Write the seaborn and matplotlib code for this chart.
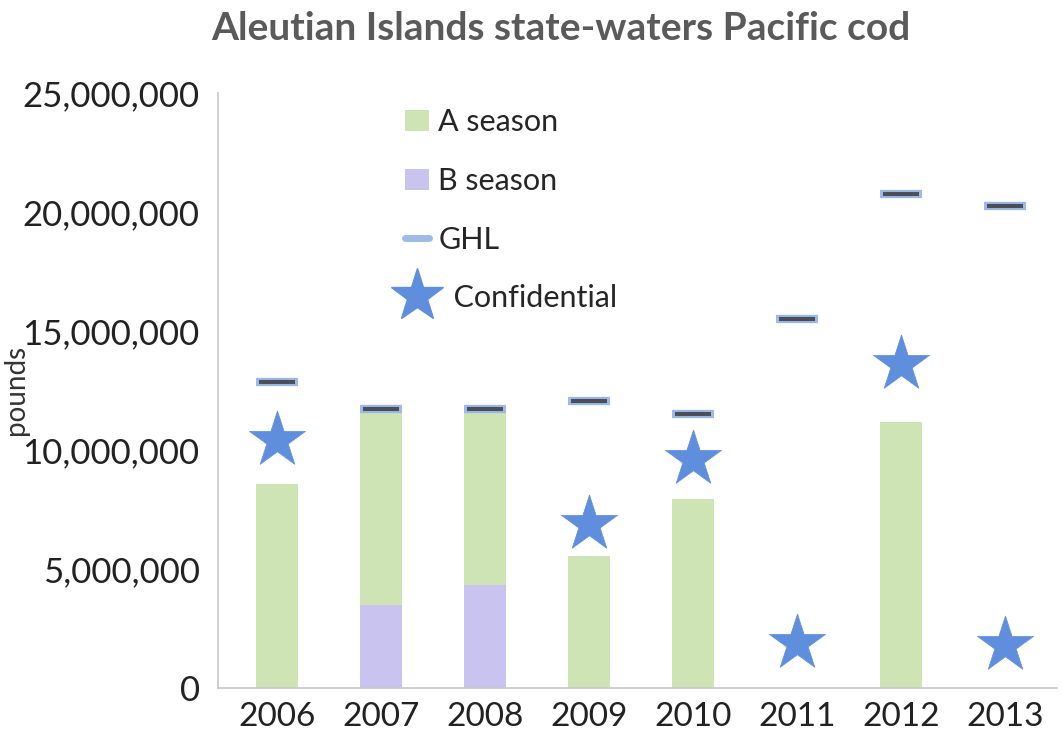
import matplotlib
matplotlib.use("Agg")
import matplotlib.pyplot as plt
import numpy as np
import pandas as pd
import seaborn as sns
from matplotlib.lines import Line2D
from matplotlib.patches import Patch
from matplotlib.ticker import FuncFormatter

# data (pounds)
years = ["2006", "2007", "2008", "2009", "2010", "2011", "2012", "2013"]
a_season = [8.55e6, 8.25e6, 7.45e6, 5.55e6, 7.95e6, 0, 11.15e6, 0]
b_season = [0, 3.5e6, 4.3e6, 0, 0, 0, 0, 0]
ghl = [12.85e6, 11.7e6, 11.7e6, 12.05e6, 11.5e6, 15.5e6, 20.75e6, 20.25e6]
confidential = [10.4e6, np.nan, np.nan, 6.9e6, 9.6e6, 1.9e6, 13.6e6, 1.8e6]

GREEN = "#cfe4b4"
PURPLE = "#c9c3f0"
STAR = "#5f8fdc"
GHL_EDGE = "#9dbbe6"
GHL_DARK = "#4a4f5a"

df = pd.DataFrame({"year": years, "A": a_season, "B": b_season,
                   "GHL": ghl, "Conf": confidential})
df["total"] = df["A"] + df["B"]

sns.set_style("white")
plt.rcParams["font.family"] = ["Lato", "DejaVu Sans"]

fig = plt.figure(figsize=(10.62, 7.55), dpi=100)
ax = fig.add_axes([0.205, 0.089, 0.79, 0.788])

# stacked bars: total in green, B season overlaid at the bottom
sns.barplot(data=df, x="year", y="total", color=GREEN, width=0.4,
            saturation=1, linewidth=0, ax=ax, order=years)
sns.barplot(data=df, x="year", y="B", color=PURPLE, width=0.4,
            saturation=1, linewidth=0, ax=ax, order=years)

# GHL dashes
sns.scatterplot(data=df, x="year", y="GHL", marker="_", s=900,
                linewidth=6, color=GHL_EDGE, ax=ax, zorder=3)
sns.scatterplot(data=df, x="year", y="GHL", marker="_", s=700,
                linewidth=3, color=GHL_DARK, ax=ax, zorder=4)

# confidential stars
conf = df.dropna(subset=["Conf"])
sns.scatterplot(data=conf, x="year", y="Conf", marker="*", s=1800,
                color=STAR, edgecolor=STAR, linewidth=0.5, ax=ax, zorder=5)

ax.set_xlim(-0.57, 7.5)
ax.set_ylim(0, 25e6)
ax.yaxis.set_major_locator(plt.MultipleLocator(5e6))
ax.yaxis.set_major_formatter(FuncFormatter(lambda v, p: f"{v:,.0f}"))
ax.tick_params(axis="y", labelsize=25, length=5, color="#c8c8c8",
               labelcolor="#222222", pad=8)
ax.tick_params(axis="x", labelsize=24, length=0, labelcolor="#222222", pad=10)
ax.set_xlabel("")
ax.set_ylabel("pounds", fontsize=20, color="#333333", labelpad=0)
ax.yaxis.set_label_coords(-0.225, 0.5)

for side in ["top", "right"]:
    ax.spines[side].set_visible(False)
for side in ["left", "bottom"]:
    ax.spines[side].set_color("#c8c8c8")
    ax.spines[side].set_linewidth(1.2)

fig.suptitle("Aleutian Islands state-waters Pacific cod", x=0.528, y=0.985,
             fontsize=28, fontweight="bold", color="#5a5a5a")

handles = [
    Patch(facecolor=GREEN, edgecolor="none", label="A season"),
    Patch(facecolor=PURPLE, edgecolor="none", label="B season"),
    Line2D([], [], color=GHL_EDGE, lw=5, label="GHL"),
    Line2D([], [], marker="*", color=STAR, ls="none", markersize=40,
           label="  Confidential"),
]
ax.legend(handles=handles, loc="upper left", bbox_to_anchor=(0.19, 1.02),
          frameon=False, fontsize=22, labelspacing=1.0, handlelength=0.8,
          handletextpad=0.3)

fig.savefig("out.png", dpi=100)
